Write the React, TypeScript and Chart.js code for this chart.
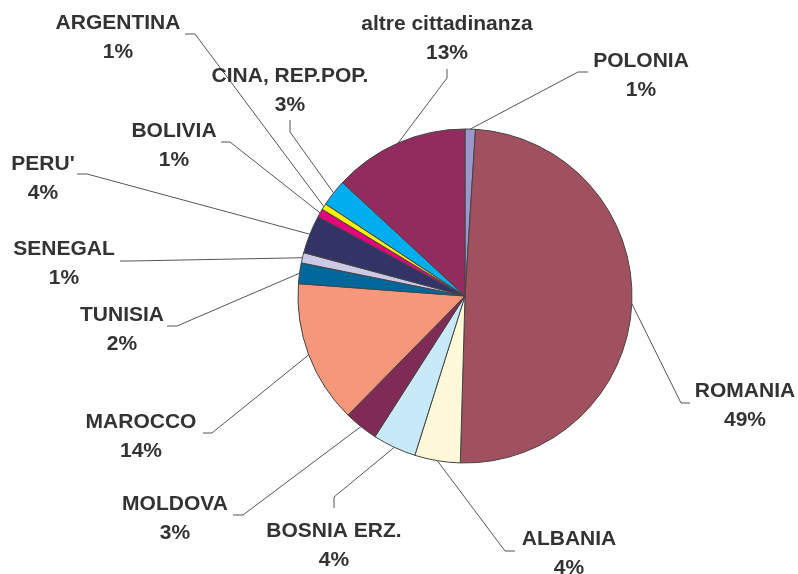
import React, { useEffect, useRef } from "react";
import { Chart, registerables } from "chart.js";

Chart.register(...registerables);

const categories = [
  "POLONIA",
  "ROMANIA",
  "ALBANIA",
  "BOSNIA ERZ.",
  "MOLDOVA",
  "MAROCCO",
  "TUNISIA",
  "SENEGAL",
  "PERU'",
  "BOLIVIA",
  "ARGENTINA",
  "CINA, REP.POP.",
  "altre cittadinanza",
];

const shares = [1.0, 49.4, 4.4, 4.2, 3.3, 13.8, 2.0, 1.0, 3.7, 0.8, 0.6, 2.6, 13.1];

const sliceColors = [
  "#9C97CC",
  "#A0505E",
  "#FFF9DA",
  "#C8EAF8",
  "#802B55",
  "#F4977A",
  "#00679A",
  "#CCC9E6",
  "#333366",
  "#E6007E",
  "#FFF200",
  "#00AEEF",
  "#922B5E",
];

// label layout relative to pie centre: elbow point, leader end, text centre x, first baseline
const labelLayout = [
  { ex: 113, ey: -224, lx: 123, ly: -224, tx: 176, ty: -229 },
  { ex: 216, ey: 107, lx: 225, ly: 107, tx: 280, ty: 101 },
  { ex: 40, ey: 255, lx: 50, ly: 255, tx: 104, ty: 249 },
  { ex: -131, ey: 201, lx: -131, ly: 212, tx: -131, ty: 241 },
  { ex: -222, ey: 219, lx: -232, ly: 219, tx: -290, ty: 214 },
  { ex: -253, ey: 137, lx: -262, ly: 137, tx: -324, ty: 132 },
  { ex: -288, ey: 30, lx: -298, ly: 30, tx: -343, ty: 25 },
  { ex: -335, ey: -35, lx: -345, ly: -35, tx: -401, ty: -41 },
  { ex: -378, ey: -122, lx: -388, ly: -122, tx: -422, ty: -126 },
  { ex: -235, ey: -154, lx: -244, ly: -154, tx: -291, ty: -159 },
  { ex: -270, ey: -262, lx: -280, ly: -262, tx: -347, ty: -267 },
  { ex: -175, ey: -164, lx: -175, ly: -176, tx: -175, ty: -214 },
  { ex: -18, ey: -218, lx: -18, ly: -227, tx: -18, ty: -266 },
];

const labelPlugin = {
  id: "pieLabels",
  afterDatasetsDraw(chart: any) {
    const ctx = chart.ctx;
    const meta = chart.getDatasetMeta(0);
    const data = chart.data.datasets[0].data as number[];
    const total = data.reduce((a, b) => a + b, 0);
    ctx.save();
    meta.data.forEach((arc: any, i: number) => {
      const p = arc.getProps(["x", "y", "startAngle", "endAngle", "outerRadius"], true);
      const lay = labelLayout[i];
      const mid = (p.startAngle + p.endAngle) / 2;
      const sx = p.x + Math.cos(mid) * p.outerRadius;
      const sy = p.y + Math.sin(mid) * p.outerRadius;
      ctx.beginPath();
      ctx.strokeStyle = "#555555";
      ctx.lineWidth = 1;
      ctx.moveTo(sx, sy);
      ctx.lineTo(p.x + lay.ex, p.y + lay.ey);
      ctx.lineTo(p.x + lay.lx, p.y + lay.ly);
      ctx.stroke();
      ctx.fillStyle = "#333333";
      ctx.font = 'bold 21px "Liberation Sans", Arial, sans-serif';
      ctx.textAlign = "center";
      ctx.textBaseline = "alphabetic";
      const pct = Math.round((data[i] / total) * 100) + "%";
      ctx.fillText(chart.data.labels[i], p.x + lay.tx, p.y + lay.ty);
      ctx.fillText(pct, p.x + lay.tx, p.y + lay.ty + 29);
    });
    ctx.restore();
  },
};

export default function App() {
  const ref = useRef<HTMLCanvasElement | null>(null);
  useEffect(() => {
    if (!ref.current) return;
    const chart = new Chart(ref.current, {
      type: "pie",
      data: {
        labels: categories,
        datasets: [
          {
            data: shares,
            backgroundColor: sliceColors,
            borderColor: "#444444",
            borderWidth: 1,
            hoverOffset: 0,
            radius: 167,
          } as any,
        ],
      },
      options: {
        animation: false,
        responsive: false,
        layout: { padding: { left: 200, right: 68, top: 100, bottom: 82 } },
        plugins: {
          legend: { display: false },
          tooltip: { enabled: false },
        },
      },
      plugins: [labelPlugin],
    });
    return () => chart.destroy();
  }, []);
  return (
    <div style={{ position: "absolute", left: 0, top: 0, width: 798, height: 574, background: "#fff" }}>
      <canvas ref={ref} width={798} height={574} style={{ display: "block" }} />
    </div>
  );
}
